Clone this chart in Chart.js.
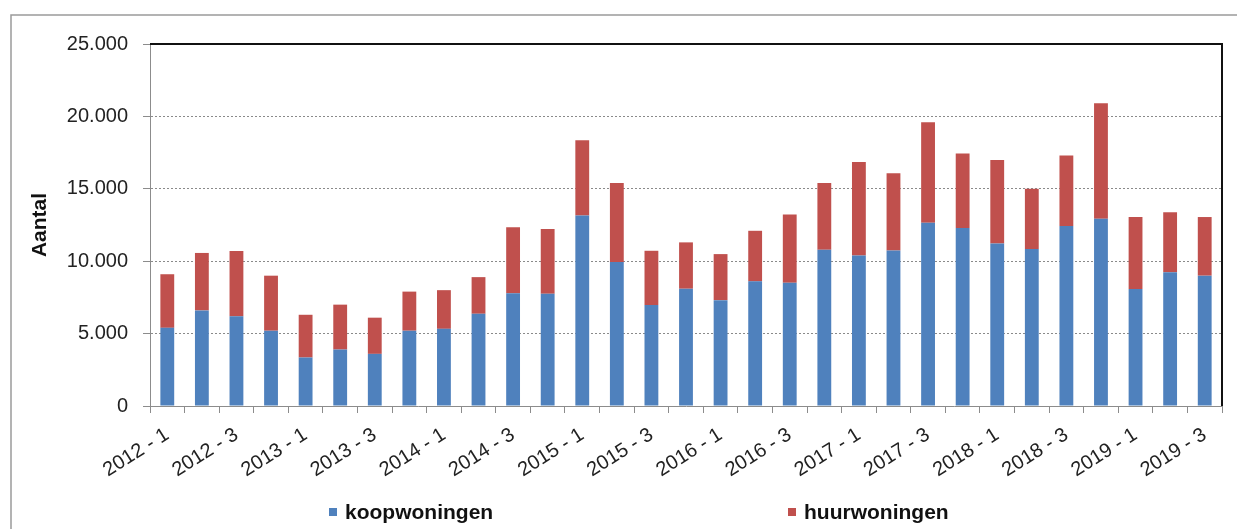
<!DOCTYPE html>
<html>
<head>
<meta charset="utf-8">
<script src="https://cdn.jsdelivr.net/npm/chart.js@4/dist/chart.umd.min.js"></script>
<style>
  body { margin: 0; background: #fff; }
  #wrap { width: 1237px; height: 529px; position: relative; }
</style>
</head>
<body>
<div id="wrap"><canvas id="myChart"></canvas></div>
<script>
const quarters = [
  '2012 - 1', '2012 - 2', '2012 - 3', '2012 - 4',
  '2013 - 1', '2013 - 2', '2013 - 3', '2013 - 4',
  '2014 - 1', '2014 - 2', '2014 - 3', '2014 - 4',
  '2015 - 1', '2015 - 2', '2015 - 3', '2015 - 4',
  '2016 - 1', '2016 - 2', '2016 - 3', '2016 - 4',
  '2017 - 1', '2017 - 2', '2017 - 3', '2017 - 4',
  '2018 - 1', '2018 - 2', '2018 - 3', '2018 - 4',
  '2019 - 1', '2019 - 2', '2019 - 3'
];

const koopwoningen = [
  5400, 6600, 6200, 5200,
  3350, 3900, 3600, 5200,
  5330, 6370, 7780, 7750,
  13150, 9950, 6970, 8100,
  7310, 8610, 8520, 10790,
  10400, 10740, 12660, 12300,
  11220, 10840, 12430, 12940,
  8080, 9240, 9000
];

const huurwoningen = [
  3700, 3970, 4500, 3800,
  2950, 3100, 2500, 2700,
  2670, 2530, 4560, 4470,
  5200, 5450, 3750, 3200,
  3180, 3490, 4700, 4610,
  6450, 5330, 6940, 5130,
  5770, 4160, 4870, 7960,
  4970, 4140, 4050
];

const yTicks = [0, 5000, 10000, 15000, 20000, 25000];

const BLUE = '#4f81bd';
const RED = '#c0504d';
const AXIS_GREY = '#8c8c8c';

function dots(n) {
  return String(n).replace(/\B(?=(\d{3})+(?!\d))/g, '.');
}

// grey frame around the whole picture, black top/right edge of the plot
const framePlugin = {
  id: 'frame',
  beforeDraw(chart) {
    const ctx = chart.ctx;
    ctx.save();
    ctx.strokeStyle = '#9a9a9a';
    ctx.lineWidth = 1.5;
    ctx.strokeRect(11, 15, 1300, 600);
    ctx.restore();
  },
  afterDatasetsDraw(chart) {
    const { ctx, chartArea: a } = chart;
    ctx.save();
    ctx.strokeStyle = '#111';
    ctx.lineWidth = 2;
    ctx.beginPath();
    ctx.moveTo(a.left, a.top);
    ctx.lineTo(a.right, a.top);
    ctx.lineTo(a.right, a.bottom);
    ctx.stroke();
    ctx.restore();
  }
};

// legend drawn by hand so the two items sit far apart like in the original
const legendPlugin = {
  id: 'wideLegend',
  afterDraw(chart) {
    const ctx = chart.ctx;
    const xs = [329, 788];
    const y = 512;
    ctx.save();
    ctx.font = 'bold 21px "Liberation Sans", Arial, sans-serif';
    ctx.textBaseline = 'middle';
    ctx.textAlign = 'left';
    chart.data.datasets.forEach((ds, i) => {
      ctx.fillStyle = ds.backgroundColor;
      ctx.fillRect(xs[i], y - 4, 8, 8);
      ctx.fillStyle = '#111';
      ctx.fillText(ds.label, xs[i] + 16, y + 1);
    });
    ctx.restore();
  }
};

const data = {
  labels: quarters,
  datasets: [
    { label: 'koopwoningen', data: koopwoningen, backgroundColor: BLUE },
    { label: 'huurwoningen', data: huurwoningen, backgroundColor: RED }
  ]
};

const config = {
  type: 'bar',
  data: data,
  options: {
    animation: false,
    responsive: true,
    maintainAspectRatio: false,
    layout: { padding: { top: 44, right: 15, bottom: 40, left: 0 } },
    datasets: {
      bar: { categoryPercentage: 1, barPercentage: 0.4 }
    },
    plugins: {
      legend: { display: false },
      tooltip: { enabled: false }
    },
    scales: {
      x: {
        stacked: true,
        afterFit: (scale) => { scale.height = 83; },
        grid: {
          drawOnChartArea: false,
          drawTicks: true,
          tickLength: 7,
          tickColor: AXIS_GREY
        },
        border: { color: AXIS_GREY, width: 1 },
        ticks: {
          autoSkip: false,
          minRotation: 32,
          maxRotation: 32,
          padding: 10,
          color: '#222',
          font: { family: '"Liberation Sans", Arial, sans-serif', size: 20 },
          callback: (v, i) => (i % 2 === 0 ? quarters[i] : '')
        }
      },
      y: {
        stacked: true,
        min: 0,
        max: 25000,
        afterFit: (scale) => { scale.width = 150; },
        afterBuildTicks: (scale) => { scale.ticks = yTicks.map(v => ({ value: v })); },
        grid: {
          color: (c) => (c.tick && (c.tick.value === 0 || c.tick.value === 25000)) ? 'rgba(0,0,0,0)' : '#8a8a8a',
          tickBorderDash: [],
          tickLength: 7,
          tickColor: AXIS_GREY,
          lineWidth: 1
        },
        // in v4 the grid line dash comes from border.dash
        border: { color: AXIS_GREY, width: 1, dash: [2, 2] },
        ticks: {
          padding: 15,
          color: '#222',
          font: { family: '"Liberation Sans", Arial, sans-serif', size: 20 },
          callback: (v) => dots(v)
        },
        title: {
          display: true,
          text: 'Aantal',
          color: '#111',
          padding: { top: 28, bottom: 0 },
          font: { family: '"Liberation Sans", Arial, sans-serif', size: 21, weight: 'bold' }
        }
      }
    }
  },
  plugins: [framePlugin, legendPlugin]
};

const myChart = new Chart(document.getElementById('myChart'), config);
</script>
</body>
</html>
